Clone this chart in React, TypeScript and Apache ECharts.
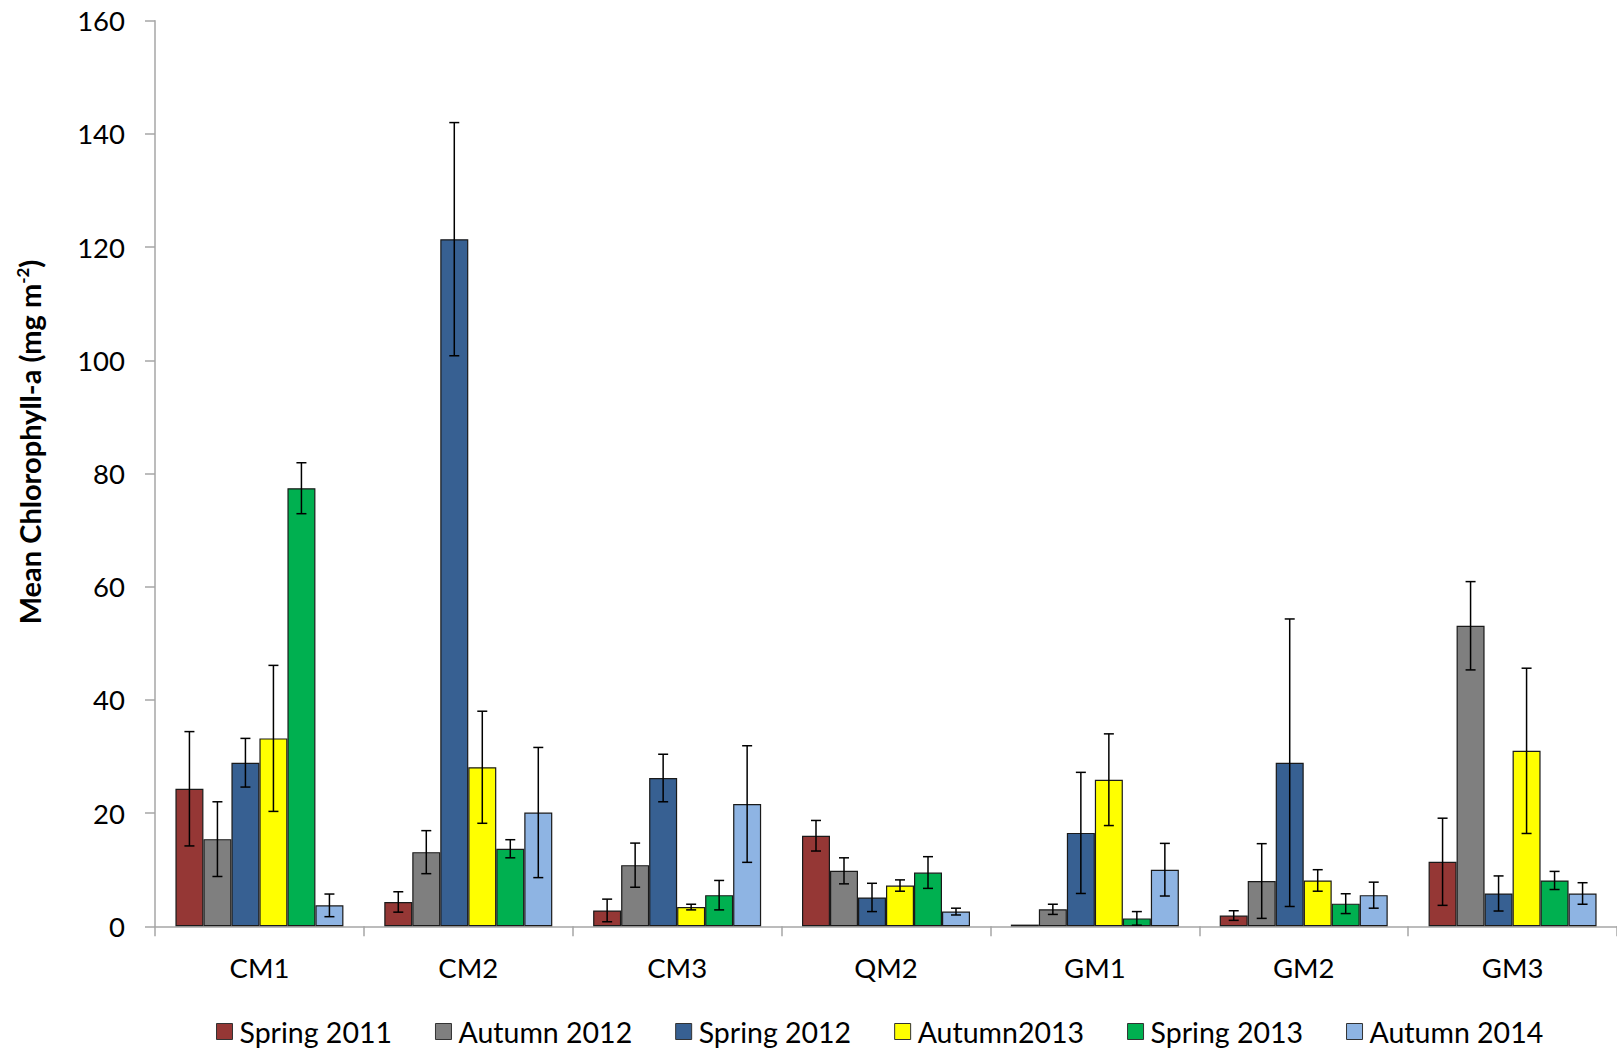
import React, { useEffect, useRef } from "react";
import * as echarts from "echarts";

const categories = ["CM1", "CM2", "CM3", "QM2", "GM1", "GM2", "GM3"];
const seriesNames = ["Spring 2011", "Autumn 2012", "Spring 2012", "Autumn2013", "Spring 2013", "Autumn 2014"];
const colors = ["#953735", "#7F7F7F", "#376092", "#FFFF00", "#00B050", "#8EB4E3"];

const spring2011 = [24.3, 4.3, 2.8, 16.0, 0.3, 1.9, 11.4];
const spring2011Err = [10.1, 1.8, 2.0, 2.7, 0, 0.85, 7.7];
const autumn2012 = [15.4, 13.1, 10.8, 9.8, 3.0, 8.0, 53.1];
const autumn2012Err = [6.6, 3.8, 3.9, 2.3, 0.9, 6.6, 7.8];
const spring2012 = [28.9, 121.4, 26.2, 5.1, 16.5, 28.9, 5.8];
const spring2012Err = [4.3, 20.6, 4.2, 2.5, 10.7, 25.4, 3.1];
const autumn2013 = [33.2, 28.1, 3.4, 7.2, 25.9, 8.1, 31.0];
const autumn2013Err = [12.9, 9.9, 0.5, 1.0, 8.1, 1.9, 14.6];
const spring2013 = [77.4, 13.7, 5.5, 9.5, 1.4, 4.0, 8.1];
const spring2013Err = [4.5, 1.6, 2.6, 2.8, 1.2, 1.75, 1.6];
const autumn2014 = [3.7, 20.1, 21.6, 2.6, 10.0, 5.5, 5.8];
const autumn2014Err = [2.0, 11.5, 10.3, 0.6, 4.65, 2.3, 1.9];

const yTicks = { min: 0, max: 160, interval: 20 };

const values = [spring2011, autumn2012, spring2012, autumn2013, spring2013, autumn2014];
const errors = [spring2011Err, autumn2012Err, spring2012Err, autumn2013Err, spring2013Err, autumn2014Err];

const FONT = "Lato";
const BAR_W = 28;

export default function App() {
  const ref = useRef<HTMLDivElement>(null);
  useEffect(() => {
    if (!ref.current) return;
    const chart = echarts.init(ref.current, null, { renderer: "svg" });
    const n = seriesNames.length;
    const barSeries = seriesNames.map((name, i) => ({
      name,
      type: "bar",
      data: values[i],
      barWidth: BAR_W,
      barGap: "0%",
      itemStyle: { color: colors[i], borderColor: "#1a1a1a", borderWidth: 1.2 },
      z: 2,
    }));
    const errSeries = seriesNames.map((name, i) => ({
      type: "custom",
      z: 5,
      silent: true,
      data: categories.map((_, c) => [c, values[i][c], errors[i][c]]),
      renderItem: (params: any, api: any) => {
        const c = api.value(0);
        const m = api.value(1);
        const e = api.value(2);
        if (!e) return null;
        const base = api.coord([c, m]);
        const x = base[0] + (i - (n - 1) / 2) * BAR_W;
        const yt = api.coord([c, m + e])[1];
        const yb = api.coord([c, Math.max(0, m - e)])[1];
        const st = { stroke: "#000", lineWidth: 1.5 };
        return {
          type: "group",
          children: [
            { type: "line", shape: { x1: x, y1: yt, x2: x, y2: yb }, style: st },
            { type: "line", shape: { x1: x - 5, y1: yt, x2: x + 5, y2: yt }, style: st },
            { type: "line", shape: { x1: x - 5, y1: yb, x2: x + 5, y2: yb }, style: st },
          ],
        };
      },
    }));
    chart.setOption({
      animation: false,
      backgroundColor: "#fff",
      textStyle: { fontFamily: FONT },
      grid: { left: 155, top: 20.7, width: 1467, height: 905.6, containLabel: false },
      legend: {
        data: seriesNames,
        left: 211,
        top: 1012,
        itemWidth: 16,
        itemHeight: 16,
        itemGap: 43,
        icon: "rect",
        itemStyle: { borderColor: "#333", borderWidth: 1 },
        textStyle: { fontFamily: FONT, fontSize: 28.5, color: "#000", padding: [0, 0, 0, 2] },
      },
      graphic: [
        {
          type: "text",
          x: 29,
          y: 442,
          rotation: Math.PI / 2,
          style: {
            text: "{t|Mean Chlorophyll-a (mg m}{s|-2}{t|)}",
            align: "center",
            verticalAlign: "middle",
            rich: {
              t: { fontFamily: FONT, fontSize: 29, fontWeight: "bold", fill: "#000" },
              s: { fontFamily: FONT, fontSize: 17, fontWeight: "bold", fill: "#000", padding: [0, 0, 14, 0] },
            },
          },
        },
      ],
      xAxis: {
        type: "category",
        data: categories,
        axisLine: { lineStyle: { color: "#A6A6A6", width: 1.5 } },
        axisTick: { show: true, length: 10, inside: false, lineStyle: { color: "#A6A6A6", width: 1.5 } },
        axisLabel: { fontFamily: FONT, fontSize: 27.5, color: "#000", margin: 27 },
      },
      yAxis: {
        type: "value",
        min: yTicks.min,
        max: yTicks.max,
        interval: yTicks.interval,
        splitLine: { show: false },
        axisLine: { show: true, lineStyle: { color: "#A6A6A6", width: 1.5 } },
        axisTick: { show: true, length: 10, inside: false, lineStyle: { color: "#A6A6A6", width: 1.5 } },
        axisLabel: { fontFamily: FONT, fontSize: 27.5, color: "#000", margin: 30 },
      },
      series: [...barSeries, ...errSeries],
    });
    return () => chart.dispose();
  }, []);
  return (
    <div
      ref={ref}
      style={{ position: "fixed", left: 0, top: 0, width: 1617, height: 1050, background: "#fff" }}
    />
  );
}
